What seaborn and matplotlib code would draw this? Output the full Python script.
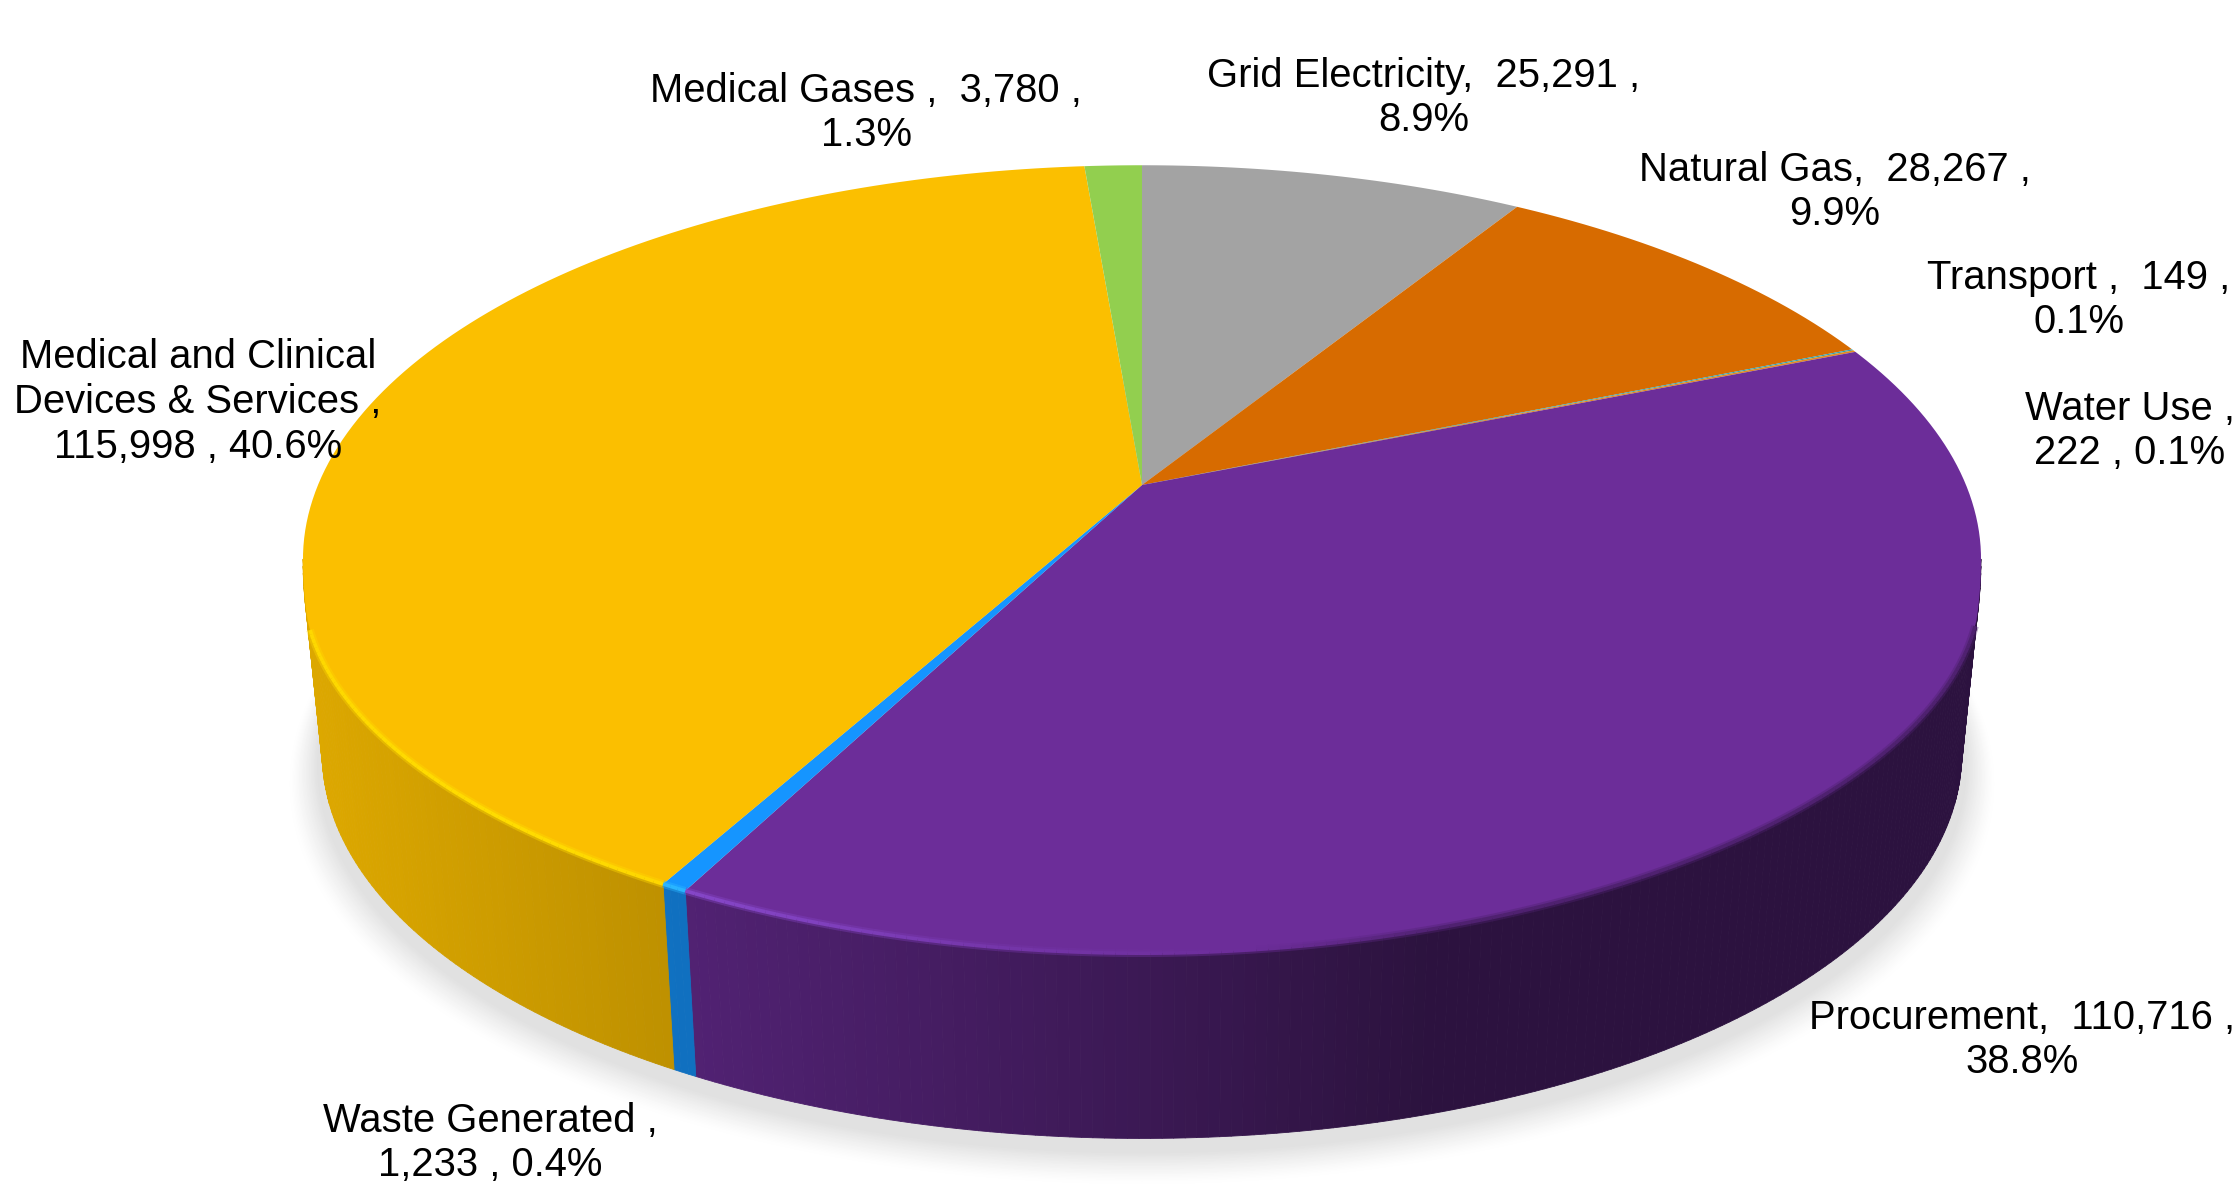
import numpy as np
import matplotlib as mpl
mpl.use("Agg")
from matplotlib import pyplot as plt
from matplotlib.collections import LineCollection, PolyCollection
from matplotlib.path import Path
from matplotlib.transforms import Affine2D, Transform
import seaborn as sns

categories = ["Grid Electricity", "Natural Gas", "Transport", "Water Use", "Procurement",
              "Waste Generated", "Medical and Clinical Devices & Services", "Medical Gases"]
emissions = [25291, 28267, 149, 222, 110716, 1233, 115998, 3780]
labels = ["Grid Electricity,  25,291 ,\n8.9%", "Natural Gas,  28,267 ,\n9.9%", "Transport ,  149 ,\n0.1%",
          "Water Use ,\n222 , 0.1%", "Procurement,  110,716 ,\n38.8%", "Waste Generated ,\n1,233 , 0.4%",
          "Medical and Clinical\nDevices & Services ,\n115,998 , 40.6%", "Medical Gases ,  3,780 ,\n1.3%"]
colors = ["#A3A3A3", "#D76B00", "#2EA3B0", "#E08A20", "#6C2D99", "#1595FF", "#FBBF00", "#92CF4F"]
label_x = [1424, 1835, 2079, 2130, 2022, 490, 198, 866]
label_y = [98, 192, 300, 431, 1040, 1143, 402, 113]

# projection of the unit disc, in pixels of the 2236x1185 picture
CX, CY = 1142, 485
A, B, K = 824, 380, 0.1884
BOTTOM_SCALE, BOTTOM_Y = 0.977, 681
BEVEL = 24


def project(u, v, scale=1.0, cy=CY, bevel=0):
    w = 1 + K * v
    x = CX + scale * A * u / w
    y = cy - scale * B * v / w
    if bevel:
        y = y + np.clip((-K - v) / 0.1, 0, 1) * bevel * u ** 4
    return x, y


class DiscPerspective(Transform):
    input_dims = 2
    output_dims = 2
    is_separable = False
    has_inverse = False

    def transform_non_affine(self, values):
        x, y = project(values[:, 0], values[:, 1], bevel=BEVEL)
        return np.column_stack([x, y])

    def transform_path_non_affine(self, path):
        # flatten the bezier arcs first, the map is not affine
        poly = path.to_polygons(Affine2D().scale(3000), closed_only=True)[0] / 3000
        return Path(self.transform_non_affine(poly))


def wall_shade(x):
    return np.interp(x, [304, 685, 1142, 1426, 2000], [0.88, 0.75, 0.55, 0.41, 0.41])


def edge_mix(x):
    # above 0 goes to the bright rim colour, below 0 to the wall colour
    return np.interp(x, [304, 500, 800, 1000, 1250, 1450, 2000], [0.8, 0.95, 0.6, 0.25, 0.0, -0.45, -0.45])


def rim_colour(base, x):
    mix = edge_mix(x)
    base = np.array(base)
    if base[2] < 0.05:
        bright = np.array([1.0, 0.87, 0.0])
    else:
        bright = np.minimum(base * 1.08 + np.array([0.1, 0.12, 0.2]), 1)
    if mix > 0:
        return tuple(base + (bright - base) * mix)
    return tuple(base + (base * wall_shade(x) - base) * -mix)


sns.set_theme(style="white", font="Liberation Sans")
palette = sns.color_palette(colors)

fig, ax = plt.subplots(figsize=(22.36, 11.85), dpi=100)
fig.subplots_adjust(0, 0, 1, 1)

wedges, _ = ax.pie(emissions, colors=palette, startangle=90, counterclock=False,
                   wedgeprops={"linewidth": 0, "zorder": 3})
ax.set_aspect("auto")
ax.set_xlim(0, 2236)
ax.set_ylim(1185, 0)
ax.axis("off")

disc = DiscPerspective()
for w in wedges:
    w.set_transform(disc + ax.transData)

# soft shadow below the pie
ring = np.radians(np.linspace(0, 360, 361))
for t in np.linspace(1, 0, 24):
    sx, sy = project(np.cos(ring), np.sin(ring), BOTTOM_SCALE + 0.006 + 0.034 * t, BOTTOM_Y + 12 + 16 * t)
    grey = 1 - (1 - 0.882) * (1 - t) ** 1.3
    ax.fill(sx, sy, color=(grey, grey, grey), lw=0, zorder=0)

# side wall and rim highlight, slice by slice, only the near half shows
near_from = np.degrees(np.arcsin(-K))
near_to = 180 - near_from
strips, strip_colors, rim, rim_colors = [], [], [], []
for w, base in zip(wedges, palette):
    t1, t2 = w.theta1 % 360, w.theta2 % 360
    if t2 <= t1:
        t2 += 360
    for shift in (0, 360, -360):
        a, b = max(t1 + shift, near_to), min(t2 + shift, 360 + near_from)
        if b <= a:
            continue
        th = np.radians(np.linspace(a, b, max(2, int((b - a) * 1.5) + 2)))
        for p, q in zip(th[:-1], th[1:]):
            ang = np.array([p, q])
            tx, ty = project(np.cos(ang), np.sin(ang), bevel=BEVEL)
            bx, by = project(np.cos(ang), np.sin(ang), BOTTOM_SCALE, BOTTOM_Y)
            strips.append([(tx[0], ty[0]), (tx[1], ty[1]), (bx[1], by[1]), (bx[0], by[0])])
            strip_colors.append(tuple(np.array(base) * wall_shade(tx.mean())))
            # keep the rim off the silhouette corners
            if near_to + 7 < np.degrees(p) < 360 + near_from - 7:
                rim.append([(tx[0], ty[0]), (tx[1], ty[1])])
                rim_colors.append(rim_colour(base, tx.mean()))

ax.add_collection(PolyCollection(strips, facecolors=strip_colors, edgecolors=strip_colors, linewidths=0.6, zorder=2))
ax.add_collection(LineCollection(rim, colors=rim_colors, linewidths=5.5, alpha=0.4, capstyle="butt", zorder=4))
ax.add_collection(LineCollection(rim, colors=rim_colors, linewidths=2.6, capstyle="butt", zorder=4))

for text, x, y in zip(labels, label_x, label_y):
    ax.text(x, y, text, ha="center", va="center", fontsize=28.85, color="black", linespacing=1.23, zorder=5)

fig.savefig("out.png", dpi=100)
